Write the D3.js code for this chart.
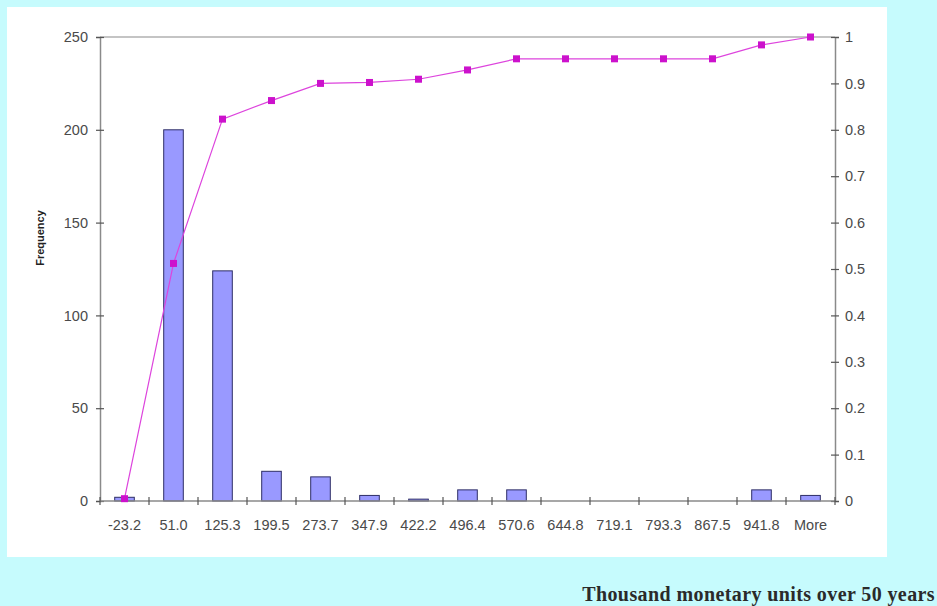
<!DOCTYPE html>
<html>
<head>
<meta charset="utf-8">
<script src="https://cdn.jsdelivr.net/npm/d3@7"></script>
<style>
  html, body { margin: 0; padding: 0; background: #c6fbfd; }
  svg { display: block; }
</style>
</head>
<body>
<script>
// Histogram bins (upper bound of each bin)
const categories = ["-23.2", "51.0", "125.3", "199.5", "273.7", "347.9", "422.2",
                    "496.4", "570.6", "644.8", "719.1", "793.3", "867.5", "941.8", "More"];
// Frequency per bin
const frequency = [2, 200, 124, 16, 13, 3, 1, 6, 6, 0, 0, 0, 0, 6, 3];
// Cumulative share per bin
const cumulative = [0.005, 0.512, 0.823, 0.863, 0.900, 0.902, 0.909, 0.929,
                    0.953, 0.953, 0.953, 0.953, 0.953, 0.983, 1.0];
// Axis ticks
const leftTicks = [0, 50, 100, 150, 200, 250];
const rightTicks = [0, 0.1, 0.2, 0.3, 0.4, 0.5, 0.6, 0.7, 0.8, 0.9, 1];
const xTitle = "Thousand monetary units over 50 years";
const yTitle = "Frequency";

const W = 937, H = 606;
const plot = { left: 100, right: 835, top: 37, bottom: 501 };

const svg = d3.select("body").append("svg").attr("width", W).attr("height", H);

// page background and chart panel
svg.append("rect").attr("width", W).attr("height", H).attr("fill", "#c6fbfd");
svg.append("rect").attr("x", 7).attr("y", 7).attr("width", 880).attr("height", 550)
  .attr("fill", "#ffffff");

const x = d3.scaleBand().domain(categories)
  .range([plot.left, plot.right]).paddingInner(0.6).paddingOuter(0.3);
const yL = d3.scaleLinear().domain([0, 250]).range([plot.bottom, plot.top]);
const yR = d3.scaleLinear().domain([0, 1]).range([plot.bottom, plot.top]);

const axisColor = "#8a8a8a";
const textColor = "#4a4a4a";
const tickFont = "Liberation Sans, Arial, sans-serif";

// plot-area top border
svg.append("line")
  .attr("x1", plot.left).attr("x2", plot.right)
  .attr("y1", plot.top).attr("y2", plot.top)
  .attr("stroke", axisColor).attr("stroke-width", 1.2);

// bars
svg.append("g").selectAll("rect").data(frequency).join("rect")
  .attr("x", (d, i) => x(categories[i]))
  .attr("width", x.bandwidth())
  .attr("y", d => yL(d))
  .attr("height", d => yL(0) - yL(d))
  .attr("fill", "#9999ff")
  .attr("stroke", "#2e2e66")
  .attr("stroke-width", 1);

function styleAxis(g) {
  g.select(".domain").attr("stroke", axisColor).attr("stroke-width", 1.5);
  g.selectAll(".tick line").attr("stroke", "#555").attr("stroke-width", 1.2);
  g.selectAll(".tick text").attr("fill", textColor)
    .attr("font-family", tickFont).attr("font-size", 14.5);
}

// left axis (frequency)
const gL = svg.append("g").attr("transform", `translate(${plot.left},0)`)
  .call(d3.axisLeft(yL).tickValues(leftTicks).tickSizeOuter(0).tickSize(4).tickPadding(8));
gL.selectAll(".tick line").attr("x1", -4).attr("x2", 4);
styleAxis(gL);

// right axis (cumulative share)
const gR = svg.append("g").attr("transform", `translate(${plot.right},0)`)
  .call(d3.axisRight(yR).tickValues(rightTicks).tickSizeOuter(0).tickSize(4).tickPadding(6)
    .tickFormat(d => String(+d.toFixed(1))));
gR.selectAll(".tick line").attr("x1", -4).attr("x2", 4);
styleAxis(gR);

// bottom axis: labels at bin centres, cross ticks at bin boundaries
const gB = svg.append("g").attr("transform", `translate(0,${plot.bottom})`)
  .call(d3.axisBottom(x).tickSize(0).tickSizeOuter(0).tickPadding(19));
gB.select(".domain").attr("d", `M${plot.left},0H${plot.right}`);
styleAxis(gB);
const bounds = d3.range(categories.length + 1).map(i => plot.left + i * x.step());
gB.selectAll(".bound").data(bounds).join("line")
  .attr("class", "bound")
  .attr("x1", d => d).attr("x2", d => d)
  .attr("y1", -4).attr("y2", 4)
  .attr("stroke", "#555").attr("stroke-width", 1.2);

// cumulative line with square markers
const cx = (d, i) => x(categories[i]) + x.bandwidth() / 2;
svg.append("path").datum(cumulative)
  .attr("d", d3.line().x(cx).y(d => yR(d)))
  .attr("fill", "none").attr("stroke", "#dd44dd").attr("stroke-width", 1.2);
const ms = 7;
svg.append("g").selectAll("rect").data(cumulative).join("rect")
  .attr("x", (d, i) => cx(d, i) - ms / 2)
  .attr("y", d => yR(d) - ms / 2)
  .attr("width", ms).attr("height", ms)
  .attr("fill", "#cc11cc");

// axis titles
svg.append("text")
  .attr("transform", "translate(44,238) rotate(-90)")
  .attr("text-anchor", "middle")
  .attr("font-family", tickFont).attr("font-weight", "bold").attr("font-size", 11)
  .attr("fill", "#222")
  .text(yTitle);

svg.append("text")
  .attr("x", 935).attr("y", 601)
  .attr("text-anchor", "end")
  .attr("font-family", "Liberation Serif, Times New Roman, serif")
  .attr("font-weight", "bold").attr("font-size", 20)
  .attr("letter-spacing", 0.4)
  .attr("fill", "#2a2a2a")
  .text(xTitle);
</script>
</body>
</html>
